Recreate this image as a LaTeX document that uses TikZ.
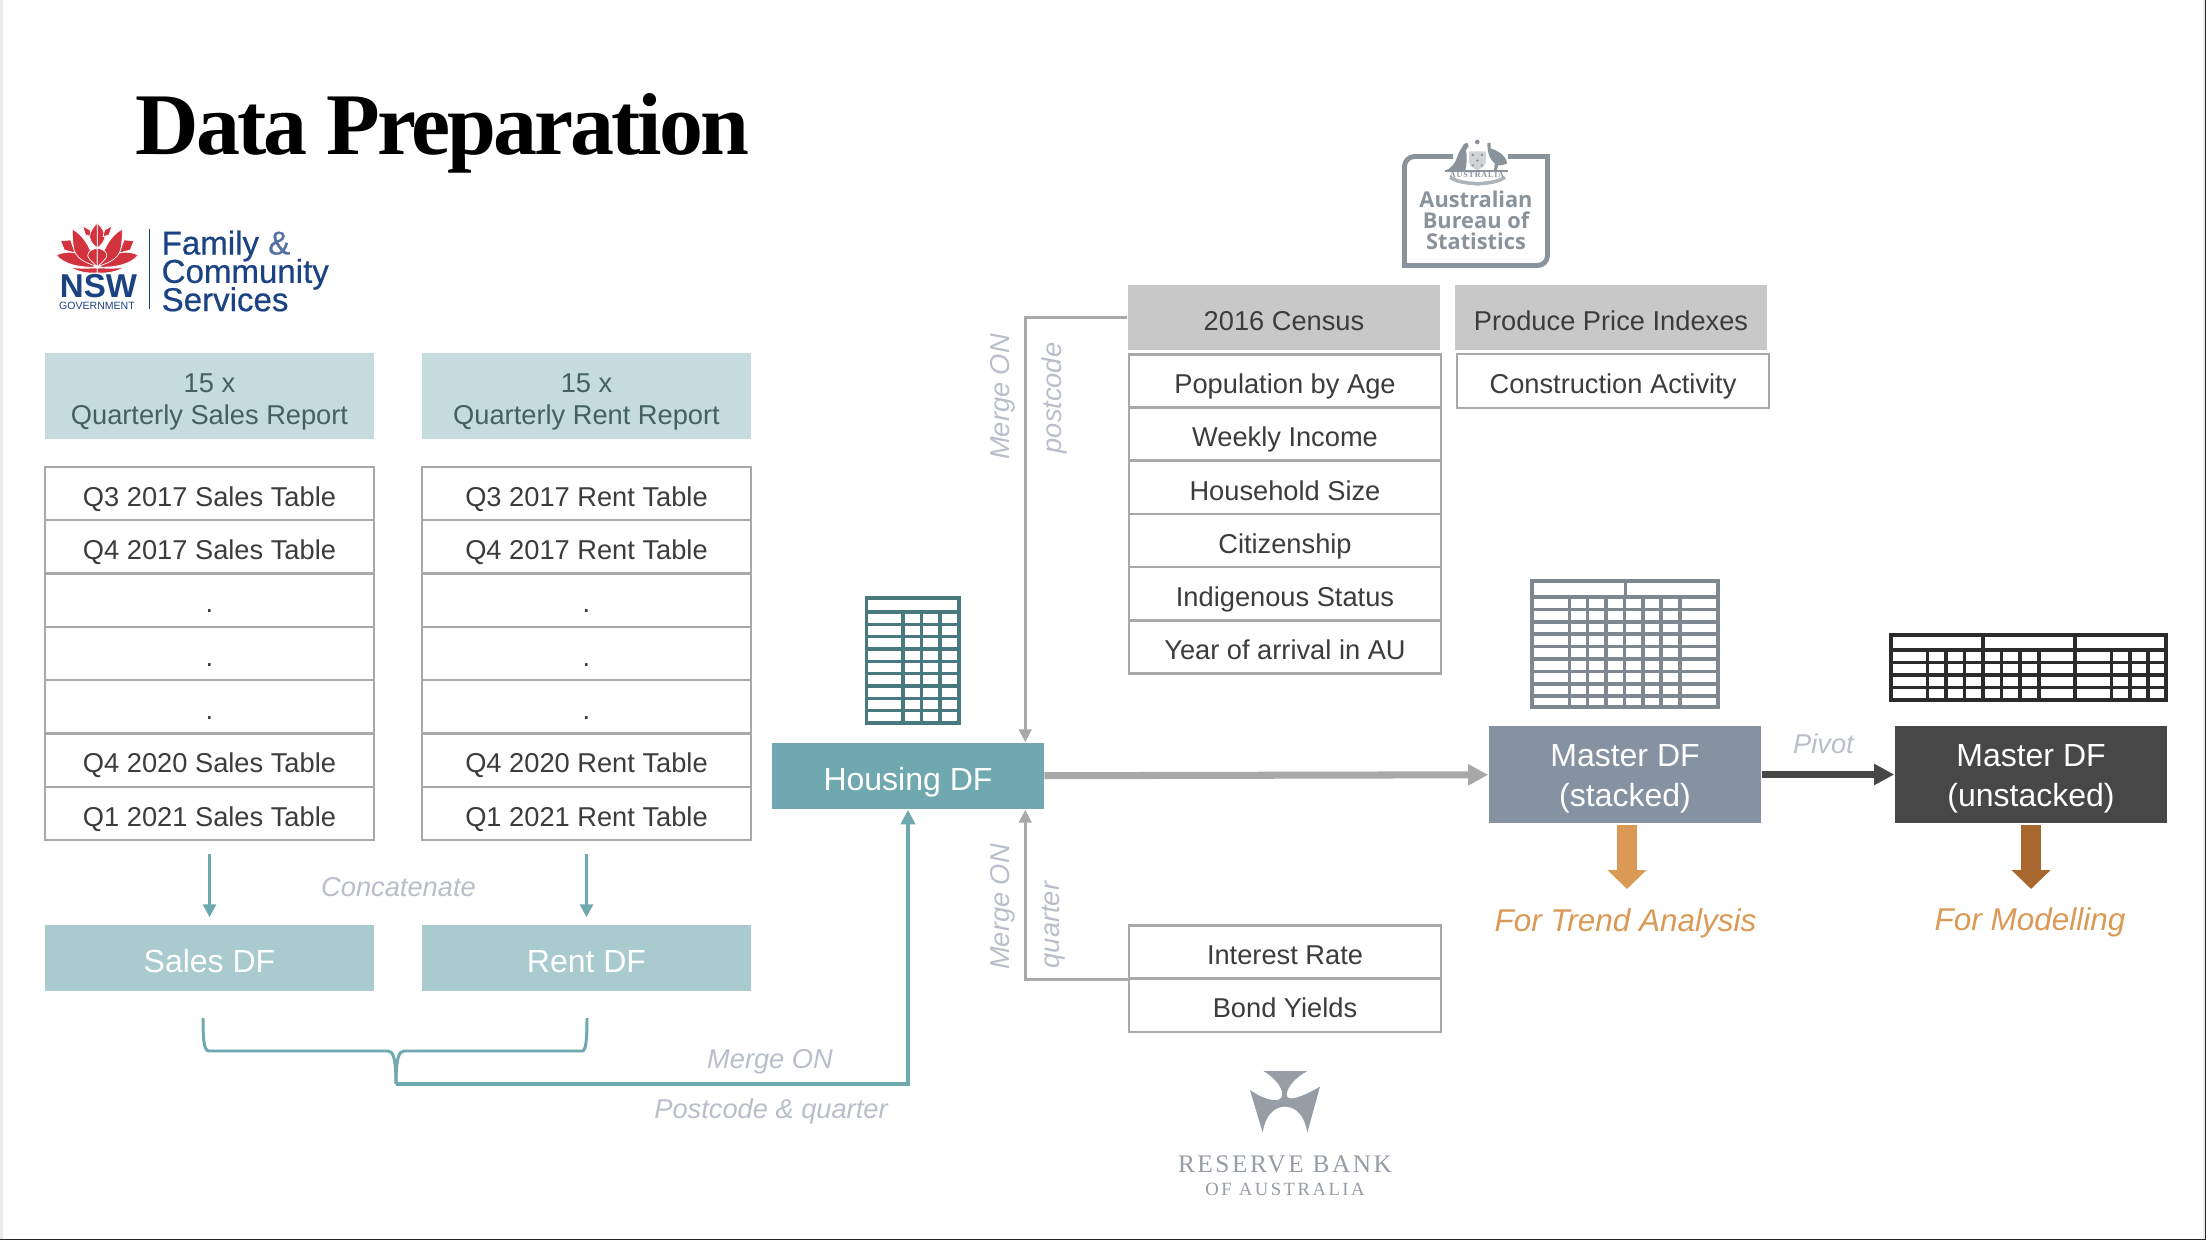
\documentclass[tikz,border=0pt]{standalone}
\usepackage{fontspec}
\setmainfont{Liberation Sans}
\newfontfamily\titlefont[LetterSpace=-3.4]{Liberation Serif}
\newfontfamily\rbawide[LetterSpace=10]{Liberation Serif}
\newfontfamily\rbawider[LetterSpace=13.5]{Liberation Serif}
\newfontfamily\absfont{Open Sans}
\newfontfamily\nswfont[FakeBold=0.5]{Liberation Sans}
\usetikzlibrary{arrows.meta}

\definecolor{headteal}{HTML}{C5DBDE}
\definecolor{headtext}{HTML}{44605F}
\definecolor{dfteal}{HTML}{A9CBCF}
\definecolor{midteal}{HTML}{70A8AF}
\definecolor{iconteal}{HTML}{47797F}
\definecolor{linegray}{HTML}{A8A8A8}
\definecolor{celltext}{HTML}{3C3C3C}
\definecolor{notegray}{HTML}{B8BFCB}
\definecolor{censusgray}{HTML}{C8C8C8}
\definecolor{slategray}{HTML}{8592A2}
\definecolor{icongray}{HTML}{7F8890}
\definecolor{darkbox}{HTML}{474747}
\definecolor{darkicon}{HTML}{2B2B2B}
\definecolor{trendorange}{HTML}{DA9A55}
\definecolor{modelbrown}{HTML}{A8672E}
\definecolor{nswred}{HTML}{D2333F}
\definecolor{nswblue}{HTML}{1B4283}
\definecolor{absgray}{HTML}{8A939B}
\definecolor{rbagray}{HTML}{979DA5}

\newcommand{\lowerby}[1]{\rule{0pt}{#1}}
\newcommand{\tightlines}{\lineskiplimit=-10pt\relax}

\tikzset{
  bodytext/.style={font=\fontsize{7.75}{9.1}\selectfont},
  bigtext/.style={font=\fontsize{9.1}{11.2}\selectfont},
  rowcell/.style={draw=linegray, line width=.7pt, bodytext, text=celltext, inner sep=0pt,
    minimum width=3.29cm, minimum height=.533cm, text height=7.2pt, text depth=0pt},
  widecell/.style={rowcell, minimum width=3.12cm},
  reporthead/.style={fill=headteal, text=headtext, bodytext, align=center, inner sep=0pt,
    minimum width=3.29cm, minimum height=.86cm},
  dfbox/.style={fill=dfteal, text=white, bigtext, inner sep=0pt,
    minimum width=3.29cm, minimum height=.66cm, text height=8pt, text depth=0pt},
  sourcehead/.style={fill=censusgray, text=celltext, bodytext, inner sep=0pt,
    minimum width=3.12cm, minimum height=.65cm, text height=7.2pt, text depth=0pt},
  masterbox/.style={text=white, bigtext, align=center, inner sep=0pt,
    minimum width=2.72cm, minimum height=.97cm},
  notelabel/.style={text=notegray, inner sep=0pt, font=\fontsize{7.75}{9.1}\selectfont\itshape},
  uselabel/.style={text=trendorange, font=\fontsize{8.95}{10.8}\selectfont\itshape, inner sep=0pt},
  petal/.style={fill=nswred, draw=white, line width=.2pt},
  tealarrow/.style={draw=midteal, line width=.85pt, -{Triangle[length=3.7pt,width=3.7pt]}},
  grayarrow/.style={draw=linegray, line width=.8pt, -{Triangle[length=3.7pt,width=3.6pt]}},
  bigarrow/.style={line width=5.55pt, -{Triangle[length=5.4pt,width=10.8pt]}},
  flowarrow/.style={line width=2pt, -{Triangle[length=5.7pt,width=5.7pt]}}
}

\begin{document}
\begin{tikzpicture}[x=.01cm,y=-.01cm]
  \useasboundingbox (0,0) rectangle (2206,1240);
  % slide edge
  \fill[white] (0,0) rectangle (2206,1240);
  \fill[black!8] (0,0) rectangle (3,1240);
  \fill[black!8] (2203,0) rectangle (2205,1240);
  \fill[black!85] (2205,0) rectangle (2206,1240);
  \fill[black!85] (0,1238.5) rectangle (2206,1240);

  \node[anchor=base west, inner sep=0pt, font=\fontsize{25}{28}\selectfont\titlefont\bfseries] (title) at (135,155) {Data Preparation};

  % NSW logo
  \foreach \flip in {1,-1} {
    \begin{scope}[shift={(97.3,0)},xscale=\flip]
      \filldraw[petal] (-28,267) .. controls (-15,274) and (-6,273) .. (0,273) -- (0,268) .. controls (-8,268) and (-18,269) .. cycle;
      \filldraw[petal] (-41,255) .. controls (-22,247) and (-8,258) .. (-2,267) .. controls (-18,268) and (-34,264) .. cycle;
      \filldraw[petal] (-36.7,240.7) -- (-26.7,240) -- (-22,253) -- (-33,250) -- cycle;
      \filldraw[petal] (-25,229) .. controls (-12,236) and (-5,252) .. (-1.5,266) .. controls (-12,263) and (-23,258) .. (-24,246) .. controls (-25,240) and (-25,235) .. cycle;
      \filldraw[petal] (-14.7,226) -- (-7.3,230) -- (-5.7,236.7) -- (-11.7,235) -- cycle;
      \filldraw[petal] (0,248) .. controls (-8,250) and (-13,254) .. (-7,260) .. controls (-4,263) and (-2,265) .. (0,267) -- cycle;
      \filldraw[petal] (0,222.7) .. controls (4,227) and (7.7,232) .. (7.7,237) .. controls (7,242) and (3,246) .. (0,248) -- cycle;
    \end{scope}
  }
  \node[text=nswblue, inner sep=0pt, font=\fontsize{9.4}{10}\selectfont\bfseries] (nsw) at (98.5,286) {NSW};
  \node[text=nswblue, inner sep=0pt, font=\fontsize{3}{4}\selectfont] (nswgov) at (97,306) {GOVERNMENT};
  \coordinate (logotop) at (149.5,229);
  \coordinate (logobot) at (149.5,309);
  \draw[nswblue, line width=.4pt] (logotop) -- (logobot);
  \node[anchor=west, text=nswblue, inner sep=0pt, align=left, font=\fontsize{9.4}{8.05}\selectfont\tightlines\nswfont] (nswname) at (161,271) {Family {\color{nswblue!75}\&}\\Community\\Services};

  % sales and rent reports
  \node[reporthead] (salesreport) at (209.5,396) {\lowerby{8.8pt}15 x\\Quarterly Sales Report};
  \node[reporthead] (rentreport) at (586.5,396) {\lowerby{8.8pt}15 x\\Quarterly Rent Report};

  \node[rowcell] (sales1) at (209.5,493.6) {Q3 2017 Sales Table};
  \node[rowcell] (sales2) at (209.5,546.9) {Q4 2017 Sales Table};
  \node[rowcell] (sales3) at (209.5,600.2) {.};
  \node[rowcell] (sales4) at (209.5,653.5) {.};
  \node[rowcell] (sales5) at (209.5,706.8) {.};
  \node[rowcell] (sales6) at (209.5,760.1) {Q4 2020 Sales Table};
  \node[rowcell] (sales7) at (209.5,813.4) {Q1 2021 Sales Table};

  \node[rowcell] (rent1) at (586.5,493.6) {Q3 2017 Rent Table};
  \node[rowcell] (rent2) at (586.5,546.9) {Q4 2017 Rent Table};
  \node[rowcell] (rent3) at (586.5,600.2) {.};
  \node[rowcell] (rent4) at (586.5,653.5) {.};
  \node[rowcell] (rent5) at (586.5,706.8) {.};
  \node[rowcell] (rent6) at (586.5,760.1) {Q4 2020 Rent Table};
  \node[rowcell] (rent7) at (586.5,813.4) {Q1 2021 Rent Table};

  \node[dfbox] (salesdf) at (209.5,958) {Sales DF};
  \node[dfbox] (rentdf) at (586.5,958) {Rent DF};
  \node[notelabel] (concat) at (398.5,887) {Concatenate};

  \draw[tealarrow, shorten <=.13cm, shorten >=.07cm] (sales7) -- (salesdf);
  \draw[tealarrow, shorten <=.13cm, shorten >=.07cm] (rent7) -- (rentdf);

  % housing table
  \node[dfbox, fill=midteal, minimum width=2.71cm] (housing) at (908,776) {Housing DF};
  \draw[iconteal, line width=1pt] (866.5,598) rectangle (959,723);
  \foreach \yy in {612,624.3,636.7,649,661.3,673.7,686,698.3,710.7} {
    \draw[iconteal, line width=1pt] (866.5,\yy) -- (959,\yy);
  }
  \foreach \xx in {903,921.6,940} {
    \draw[iconteal, line width=.9pt] (\xx,612) -- (\xx,723);
  }

  % merge of sales and rent
  \coordinate (braceL) at (203,1018);
  \coordinate (braceR) at (587,1018);
  \coordinate (braceM) at (396,1084);
  \draw[midteal, line width=.85pt] (braceL) .. controls (203,1040) and (204,1051) .. (209,1051) -- (388,1051) .. controls (393,1051) and (396,1058) .. (braceM);
  \draw[midteal, line width=.85pt] (braceR) .. controls (587,1040) and (586,1051) .. (582,1051) -- (404,1051) .. controls (399,1051) and (396,1058) .. (braceM);
  \draw[midteal, line width=1.4pt, -{Triangle[length=4.2pt,width=4pt]}] (braceM) -| (housing.south);
  \node[notelabel] (mergeon) at (770,1062) {Merge ON};
  \node[notelabel] (mergekey) at (771,1111.5) {Postcode \& quarter};

  % ABS logo
  \draw[absgray, line width=1.4pt, rounded corners=.1cm] (1453,156.5) -- (1404.5,156.5) -- (1404.5,210);
  \draw[absgray, line width=1.4pt] (1404.5,209) -- (1404.5,265.5) -- (1451,265.5);
  \draw[absgray, line width=1.4pt, rounded corners=.1cm] (1450,265.5) -- (1547.5,265.5) -- (1547.5,210);
  \draw[absgray, line width=1.4pt] (1547.5,211) -- (1547.5,156.5) -- (1508,156.5);
  \begin{scope}[shift={(1400,130)},scale=.3333]
    \fill[absgray] (192,42) -- (202,38) -- (206,48) -- (198,60) .. controls (202,85) and (200,105) .. (196,120) -- (135,122) .. controls (155,115) and (165,100) .. (172,80) .. controls (176,65) and (185,55) .. cycle;
    \fill[absgray] (262,40) -- (272,38) -- (272,55) .. controls (285,60) and (315,70) .. (322,100) .. controls (310,105) and (300,108) .. (295,105) -- (290,122) -- (282,122) -- (284,100) .. controls (270,90) and (262,70) .. cycle;
    \filldraw[fill=absgray!40, draw=white, line width=.4pt] (205,62) -- (260,62) -- (260,100) .. controls (256,113) and (240,120) .. (232,123) .. controls (224,120) and (208,113) .. (205,100) -- cycle;
    \fill[absgray] (218,75) circle (4);
    \fill[absgray] (246,75) circle (4);
    \fill[absgray] (232,92) circle (4);
    \fill[absgray] (219,106) circle (3.5);
    \fill[absgray] (245,106) circle (3.5);
    \fill[absgray] (232,36) circle (7);
    \draw[absgray, line width=.6pt] (135,124) -- (325,124);
    \draw[absgray!70, line width=1pt] (150,142) .. controls (180,160) and (205,158) .. (232,162) .. controls (260,158) and (285,160) .. (315,142);
  \end{scope}
  \node[text=absgray, inner sep=0pt, font=\fontsize{2.3}{3}\selectfont\rbawide\bfseries] (absmotto) at (1477,175) {AUSTRALIA};
  \node[text=absgray, inner sep=0pt, align=center, font=\fontsize{6.2}{6}\selectfont\absfont\bfseries] (absname) at (1476,220) {Australian\\Bureau of\\Statistics};

  % census and price tables
  \node[sourcehead] (census) at (1284,317.5) {2016 Census};
  \node[sourcehead] (priceidx) at (1611,317.5) {Produce Price Indexes};

  \node[widecell] (census1) at (1285,381) {Population by Age};
  \node[widecell] (census2) at (1285,434.2) {Weekly Income};
  \node[widecell] (census3) at (1285,487.4) {Household Size};
  \node[widecell] (census4) at (1285,540.6) {Citizenship};
  \node[widecell] (census5) at (1285,593.8) {Indigenous Status};
  \node[widecell] (census6) at (1285,647) {Year of arrival in AU};
  \node[widecell, minimum height=.54cm] (construction) at (1613,381) {Construction Activity};

  \node[widecell] (interest) at (1285,952) {Interest Rate};
  \node[widecell] (bonds) at (1285,1005.2) {Bond Yields};

  \draw[grayarrow] (census.west) -| ([xshift=-.19cm]housing.north east);
  \draw[grayarrow] (interest.south west) -| ([xshift=-.19cm]housing.south east);
  \node[notelabel, rotate=90] (mergetop) at (1003,397) {Merge ON};
  \node[notelabel, rotate=90] (postcode) at (1054,398) {postcode};
  \node[notelabel, rotate=90] (mergebot) at (1003,907) {Merge ON};
  \node[notelabel, rotate=90] (quarter) at (1054,925) {quarter};

  % RBA logo
  \begin{scope}[shift={(1100,1040)},scale=.3333]
    \fill[rbagray] (490,93) -- (622,93) .. controls (590,110) and (560,140) .. (560,165) .. controls (562,185) and (600,175) .. (660,140) -- (622,278) .. controls (615,230) and (590,200) .. (555,200) .. controls (520,200) and (495,230) .. (488,278) -- (450,150) .. controls (500,185) and (545,190) .. (547,165) .. controls (548,140) and (520,110) .. (490,93) -- cycle;
  \end{scope}
  \node[text=rbagray, inner sep=0pt, font=\fontsize{7.2}{8}\selectfont\rbawide] (rbaname) at (1285,1164) {RESERVE BANK};
  \node[text=rbagray, inner sep=0pt, font=\fontsize{5.3}{6}\selectfont\rbawider] (rbasub) at (1285,1189) {OF AUSTRALIA};

  % master tables
  \node[masterbox, fill=slategray] (masterS) at (1625,774.5) {\lowerby{8.6pt}Master DF\\(stacked)};
  \node[masterbox, fill=darkbox] (masterU) at (2031,774.5) {\lowerby{8.6pt}Master DF\\(unstacked)};

  \draw[flowarrow, draw=linegray] (housing) -- (masterS);
  \draw[flowarrow, draw=darkbox] (masterS) -- (masterU);
  \node[notelabel] (pivot) at (1823.5,744) {Pivot};

  \draw[icongray, line width=1pt] (1532,581) rectangle (1718,707);
  \draw[icongray, line width=.95pt] (1625.5,581) -- (1625.5,597);
  \foreach \yy in {597,609.4,621.8,634.2,646.6,659,671.4,683.8,696.2} {
    \draw[icongray, line width=1pt] (1532,\yy) -- (1718,\yy);
  }
  \foreach \xx in {1569.5,1587.5,1606,1624.7,1643,1661,1680} {
    \draw[icongray, line width=.95pt] (\xx,597) -- (\xx,707);
  }

  \draw[darkicon, line width=1.1pt] (1891,635) rectangle (2166,700);
  \draw[darkicon, line width=1pt] (1983,635) -- (1983,650);
  \draw[darkicon, line width=1pt] (2075,635) -- (2075,650);
  \foreach \yy in {650,662.5,675,687.5} {
    \draw[darkicon, line width=1.1pt] (1891,\yy) -- (2166,\yy);
  }
  \foreach \xx in {1927.5,1946,1964.7,1983,2001.8,2020,2039,2075,2111.7,2130,2148} {
    \draw[darkicon, line width=.95pt] (\xx,650) -- (\xx,700);
  }

  \coordinate (trendend) at (1627,889);
  \coordinate (modelend) at (2031,889);
  \draw[bigarrow, draw=trendorange, shorten <=.01cm] (trendend |- masterS.south) -- (trendend);
  \draw[bigarrow, draw=modelbrown, shorten <=.01cm] (modelend |- masterU.south) -- (modelend);
  \node[uselabel] (trend) at (1625.5,923) {For Trend Analysis};
  \node[uselabel] (modelling) at (2030,922) {For Modelling};
\end{tikzpicture}
\end{document}
